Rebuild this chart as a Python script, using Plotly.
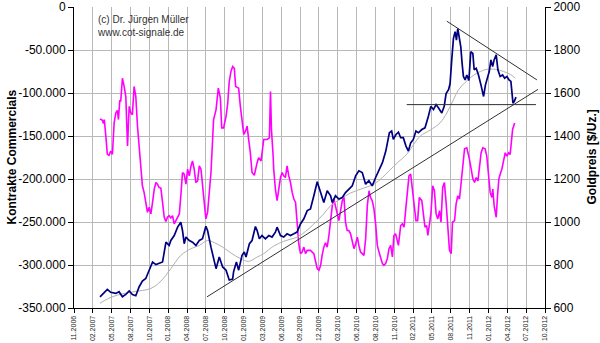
import plotly.graph_objects as go

# Category labels of the time axis (one every ~quarter)
tick_labels = ["11.2006", "02.2007", "05.2007", "08.2007", "10.2007", "01.2008",
               "04.2008", "07.2008", "10.2008", "01.2009", "03.2009", "06.2009",
               "09.2009", "12.2009", "03.2010", "06.2010", "08.2010", "11.2010",
               "02.2011", "05.2011", "08.2011", "11.2011", "01.2012", "04.2012",
               "07.2012", "10.2012"]

# Gold price [$/oz], position measured in label steps from 11.2006
gold_pos = [1.38, 1.77, 1.95, 2.22, 2.39, 2.57, 2.75, 2.93, 3.10, 3.28, 3.46, 3.63,
            3.81, 3.99, 4.17, 4.35, 4.52, 4.70, 4.88, 5.05, 5.14, 5.32, 5.50, 5.67,
            5.76, 5.85, 5.94, 6.12, 6.29, 6.47, 6.65, 6.82, 7.00, 7.09, 7.27, 7.45,
            7.54, 7.71, 7.89, 8.07, 8.24, 8.42, 8.47, 8.62, 8.74, 8.92, 9.04, 9.13,
            9.31, 9.45, 9.63, 9.72, 9.84, 9.98, 10.16, 10.34, 10.51, 10.69, 10.78,
            10.96, 11.13, 11.31, 11.49, 11.67, 11.84, 12.02, 12.20, 12.38, 12.55,
            12.73, 12.91, 13.09, 13.26, 13.44, 13.62, 13.71, 13.88, 14.06, 14.24,
            14.41, 14.59, 14.77, 14.95, 15.12, 15.30, 15.48, 15.65, 15.83, 16.01,
            16.19, 16.37, 16.55, 16.74, 16.86, 16.95, 17.09, 17.22, 17.34, 17.48,
            17.62, 17.75, 17.87, 18.01, 18.15, 18.28, 18.46, 18.63, 18.81, 18.94,
            19.08, 19.22, 19.35, 19.52, 19.65, 19.75, 19.88, 19.96, 20.05, 20.14,
            20.23, 20.30, 20.37, 20.46, 20.53, 20.60, 20.67, 20.76, 20.85, 20.96,
            21.06, 21.17, 21.24, 21.35, 21.47, 21.60, 21.74, 21.84, 21.95, 22.04,
            22.13, 22.22, 22.30, 22.41, 22.50, 22.62, 22.75, 22.86, 22.98, 23.09,
            23.19, 23.30, 23.37, 23.46]
gold_usd = [652, 687, 673, 668, 676, 652, 663, 679, 663, 657, 699, 725,
            737, 776, 814, 802, 807, 814, 906, 891, 914, 937, 976, 999,
            960, 899, 930, 914, 906, 891, 914, 922, 980, 960, 883, 814,
            783, 837, 791, 776, 730, 734, 768, 814, 776, 845, 860, 837,
            899, 914, 979, 960, 922, 937, 922, 937, 930, 953, 976,
            937, 930, 945, 937, 945, 953, 991, 1015, 1053, 1061,
            1122, 1187, 1137, 1091, 1145, 1122, 1091, 1122, 1107, 1114,
            1137, 1153, 1168, 1215, 1238, 1230, 1176, 1192, 1168, 1207,
            1238, 1276, 1330, 1415, 1423, 1384, 1407, 1418, 1392, 1392,
            1353, 1330, 1368, 1384, 1423, 1415, 1430, 1438, 1492, 1538,
            1523, 1546, 1530, 1507, 1538, 1597, 1615, 1643, 1754, 1854,
            1885, 1846, 1900, 1854, 1815, 1738, 1677, 1661, 1684, 1658,
            1792, 1784, 1708, 1715, 1684, 1638, 1584, 1638, 1677, 1700,
            1754, 1723, 1754, 1777, 1708, 1677, 1684, 1669, 1677, 1661,
            1654, 1553, 1561, 1581]

# Moving average of the gold price
avg_pos = [1.38, 1.77, 2.30, 3.19, 4.08, 4.61, 5.14, 5.67, 6.21, 6.65, 7.09, 7.45,
           7.89, 8.33, 8.83, 9.27, 9.72, 10.07, 10.60, 11.13, 11.84, 12.29, 12.73,
           13.26, 13.62, 14.15, 14.68, 15.39, 15.92, 16.37, 16.72, 17.20, 17.66,
           18.37, 18.90, 19.43, 19.79, 20.14, 20.41, 20.76, 21.12, 21.47, 21.91,
           22.36, 22.80, 23.15, 23.42]
avg_usd = [622, 642, 660, 676, 691, 725, 783, 845, 876, 891, 914, 904,
           883, 856, 830, 817, 837, 853, 888, 910, 930, 956, 991,
           1038, 1076, 1107, 1135, 1158, 1176, 1207, 1238, 1278, 1315,
           1399, 1427, 1461, 1507, 1569, 1615, 1649, 1677, 1696, 1710,
           1710, 1700, 1687, 1669]

# Net position of the commercials (contracts)
cot_pos = [1.38, 1.51, 1.56, 1.61, 1.69, 1.77, 1.86, 1.95, 2.04, 2.13, 2.22, 2.30,
           2.36, 2.43, 2.48, 2.57, 2.66, 2.75, 2.84, 2.93, 3.01, 3.10, 3.19, 3.28,
           3.37, 3.46, 3.55, 3.63, 3.72, 3.81, 3.90, 3.99, 4.08, 4.17, 4.26, 4.35,
           4.43, 4.52, 4.61, 4.70, 4.79, 4.88, 4.96, 5.05, 5.14, 5.23, 5.32, 5.41,
           5.50, 5.59, 5.67, 5.76, 5.85, 5.94, 6.03, 6.12, 6.21, 6.29, 6.38, 6.47,
           6.56, 6.65, 6.74, 6.82, 6.91, 7.00, 7.09, 7.18, 7.27, 7.41, 7.54, 7.66,
           7.77, 7.84, 7.94, 8.07, 8.16, 8.24, 8.33, 8.42, 8.51, 8.58, 8.74, 8.83,
           8.92, 9.01, 9.10, 9.19, 9.27, 9.36, 9.45, 9.57, 9.72, 9.80, 9.93, 10.07,
           10.25, 10.37, 10.43, 10.48, 10.57, 10.60, 10.69, 10.78, 10.87, 10.96,
           11.05, 11.13, 11.22, 11.31, 11.40, 11.49, 11.58, 11.67, 11.76, 11.84,
           11.93, 12.02, 12.11, 12.20, 12.29, 12.38, 12.55, 12.73, 12.82, 12.91,
           13.00, 13.09, 13.17, 13.26, 13.35, 13.44, 13.53, 13.62, 13.71, 13.79,
           13.88, 13.97, 14.06, 14.15, 14.24, 14.33, 14.41, 14.50, 14.59, 14.68,
           14.77, 14.86, 14.95, 15.04, 15.12, 15.21, 15.30, 15.39, 15.48, 15.57,
           15.66, 15.74, 15.83, 15.92, 16.01, 16.10, 16.19, 16.28, 16.37, 16.45,
           16.54, 16.63, 16.72, 16.81, 16.90, 16.98, 17.07, 17.22, 17.34, 17.43,
           17.52, 17.61, 17.70, 17.78, 17.87, 17.96, 18.05, 18.15, 18.24, 18.33,
           18.46, 18.55, 18.63, 18.72, 18.78, 18.87, 18.95, 19.04, 19.13, 19.22,
           19.31, 19.40, 19.48, 19.57, 19.66, 19.75, 19.84, 19.93, 20.02, 20.09,
           20.20, 20.28, 20.37, 20.46, 20.55, 20.64, 20.73, 20.85, 20.94, 20.99,
           21.08, 21.17, 21.26, 21.35, 21.44, 21.53, 21.61, 21.70, 21.82, 21.91,
           22.00, 22.09, 22.18, 22.23, 22.30, 22.41, 22.48, 22.55, 22.62, 22.71,
           22.80, 22.89, 22.98, 23.07, 23.15, 23.21, 23.28, 23.39]
cot_net = [-130200, -131700, -135500, -130900, -150200, -171300, -172500, -167500,
           -171300, -134800, -123200, -120100, -130900, -108600, -109700, -82800,
           -92400, -104000, -161700, -115500, -123200, -125100, -92400, -104000,
           -138600, -161700, -184800, -207900, -215600, -225200, -238700, -232900,
           -240600, -227200, -211700, -204100, -206000, -209900, -210600, -227200,
           -244500, -249500, -244500, -242600, -245200, -242600, -252200, -248400,
           -244500, -240600, -219500, -192500, -194400, -206000, -188600, -196400,
           -184800, -179000, -188600, -204100, -202100, -184800, -188600, -206000,
           -231000, -246400, -238700, -215600, -192500, -130900, -119300, -94400,
           -105900, -140600, -140600, -127100, -111700, -86600, -75100, -69300,
           -71300, -92400, -94400, -115500, -134800, -148200, -144400, -138600,
           -154000, -169500, -192500, -195600, -181000, -175200, -179000, -154000,
           -154000, -152100, -98200, -142400, -173300, -188600, -211700, -225200,
           -211700, -198300, -192500, -196400, -198300, -184800, -196400, -204100,
           -215600, -223300, -227200, -250300, -275300, -286800, -285000, -279200,
           -286800, -283000, -283000, -286800, -296500, -304100, -306100, -300300,
           -288800, -279200, -274100, -279200, -265700, -246400, -231000, -223300,
           -231000, -240600, -248400, -236800, -225200, -221400, -250300, -259900,
           -259900, -263700, -273400, -281000, -275300, -267600, -277200, -285000,
           -286800, -288800, -269500, -231000, -213700, -221400, -225200, -234800,
           -252200, -277200, -285000, -290700, -298400, -300300, -298400, -292600,
           -281000, -277200, -290700, -265700, -263700, -277200, -254100, -252200,
           -256100, -234800, -211700, -196400, -194400, -211700, -223300, -248400,
           -248400, -221400, -225200, -240600, -256100, -254100, -265700, -252200,
           -238700, -207900, -213700, -240600, -246400, -236800, -250300, -209900,
           -204100, -227200, -256100, -283000, -286800, -250300, -248400, -229100,
           -219500, -223300, -204100, -184800, -164800, -163700, -171300, -177100,
           -188300, -199800, -204100, -198300, -202100, -181000, -169500, -163700,
           -164800, -173300, -200200, -215600, -221400, -211700, -231000, -244500,
           -219500, -200200, -194400, -188600, -179000, -169500, -173300, -169500,
           -171300, -159800, -142400, -134800]

# Hand-drawn chart-technical lines on the gold axis: (start pos, start $, end pos, end $)
trend_lines = [
    (19.79, 1934, 24.57, 1661),   # falling resistance
    (7.06, 652, 24.63, 1617),     # rising support
    (17.66, 1546, 24.52, 1546),   # horizontal support
]

left_ticks = [0, -50000, -100000, -150000, -200000, -250000, -300000, -350000]
left_text = ["0", "-50.000", "-100.000", "-150.000", "-200.000", "-250.000",
             "-300.000", "-350.000"]

FONT = "Liberation Sans, Arial, sans-serif"
GRID = "#b8b8b8"

fig = go.Figure()

fig.add_trace(go.Scatter(x=cot_pos, y=cot_net, mode="lines",
                         line=dict(color="#ff00ff", width=1.6),
                         name="Commercials", yaxis="y"))
fig.add_trace(go.Scatter(x=avg_pos, y=avg_usd, mode="lines",
                         line=dict(color="#b0b0b0", width=1, shape="spline"),
                         name="Durchschnitt", yaxis="y2"))
fig.add_trace(go.Scatter(x=gold_pos, y=gold_usd, mode="lines",
                         line=dict(color="#000080", width=1.7),
                         name="Gold", yaxis="y2"))
for x0, y0, x1, y1 in trend_lines:
    fig.add_trace(go.Scatter(x=[x0, x1], y=[y0, y1], mode="lines",
                             line=dict(color="#303030", width=1),
                             yaxis="y2", hoverinfo="skip"))

L, R, T, B = 74, 55, 7, 35
W, H = 600, 343
pw = W - L - R
ph = H - T - B

fig.update_layout(
    width=W, height=H,
    margin=dict(l=L, r=R, t=T, b=B, pad=0, autoexpand=False),
    paper_bgcolor="white", plot_bgcolor="white",
    showlegend=False,
    font=dict(family=FONT, color="#000000"),
    xaxis=dict(range=[0, 25], tickmode="array",
               tickvals=list(range(len(tick_labels))), ticktext=tick_labels,
               tickangle=-90, tickfont=dict(size=7, color="#222222"),
               showgrid=True, gridcolor=GRID, gridwidth=1,
               showline=True, linecolor="#000000", linewidth=1,
               ticks="outside", ticklen=4, tickcolor="#000000",
               ticklabeloverflow="allow", automargin=False,
               zeroline=False, fixedrange=True),
    yaxis=dict(range=[-350000, 0], tickmode="array",
               tickvals=left_ticks, ticktext=left_text,
               tickfont=dict(size=12),
               showgrid=True, gridcolor=GRID, gridwidth=1,
               showline=True, linecolor="#000000", linewidth=1,
               ticks="outside", ticklen=5, tickcolor="#000000",
               ticklabeloverflow="allow", automargin=False,
               zeroline=False, fixedrange=True),
    yaxis2=dict(range=[600, 2000], dtick=200, overlaying="y", side="right",
                tickfont=dict(size=12),
                showgrid=False, showline=True, linecolor="#000000", linewidth=1,
                ticks="outside", ticklen=5, tickcolor="#000000",
                ticklabeloverflow="allow", automargin=False,
                zeroline=False, fixedrange=True),
    annotations=[
        dict(text="<b>Kontrakte Commercials</b>", xref="paper", yref="paper",
             x=(11 - L) / pw, y=0.5, textangle=-90, showarrow=False,
             xanchor="center", yanchor="middle", font=dict(size=12)),
        dict(text="<b>Goldpreis [$/Uz.]</b>", xref="paper", yref="paper",
             x=(591 - L) / pw, y=0.5, textangle=-90, showarrow=False,
             xanchor="center", yanchor="middle", font=dict(size=12)),
        dict(text="(c) Dr. Jürgen Müller<br>www.cot-signale.de",
             xref="paper", yref="paper", x=(95 - L) / pw, y=1 - (12 - T) / ph,
             xanchor="left", yanchor="top", showarrow=False, align="left",
             font=dict(size=10, color="#333333")),
    ],
)

fig.write_html("out.html")
